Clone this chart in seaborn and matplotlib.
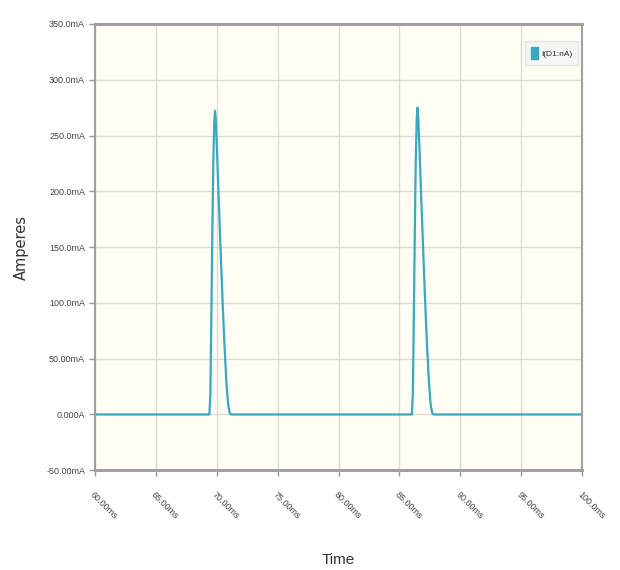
import matplotlib
matplotlib.use("Agg")
import matplotlib.pyplot as plt
import seaborn as sns
import pandas as pd
from matplotlib.patches import Patch

# Diode current I(D1) over time, in ms and mA
time_ms = [60.0,
           69.40, 69.48, 69.56, 69.64, 69.72, 69.80, 69.86, 69.92, 70.02, 70.16,
           70.32, 70.48, 70.64, 70.80, 70.95, 71.08, 71.18,
           86.02, 86.10, 86.18, 86.26, 86.34, 86.42, 86.48, 86.54, 86.64, 86.78,
           86.94, 87.10, 87.26, 87.42, 87.57, 87.70, 87.80,
           100.0]
current_ma = [0.0,
              0.0, 18.0, 85.0, 160.0, 225.0, 262.0, 272.0, 266.0, 238.0, 195.0,
              148.0, 102.0, 62.0, 28.0, 8.0, 1.0, 0.0,
              0.0, 18.0, 86.0, 162.0, 228.0, 265.0, 275.0, 268.0, 240.0, 197.0,
              150.0, 104.0, 63.0, 29.0, 8.0, 1.0, 0.0,
              0.0]

x_ticks = [60, 65, 70, 75, 80, 85, 90, 95, 100]
x_tick_labels = ["60.00ms", "65.00ms", "70.00ms", "75.00ms", "80.00ms",
                 "85.00ms", "90.00ms", "95.00ms", "100.0ms"]
y_ticks = [-50, 0, 50, 100, 150, 200, 250, 300, 350]
y_tick_labels = ["-50.00mA", "0.000A", "50.00mA", "100.0mA", "150.0mA",
                 "200.0mA", "250.0mA", "300.0mA", "350.0mA"]
series_name = "I(D1:nA)"

df = pd.DataFrame({"Time": time_ms, "Current": current_ma,
                   "Series": [series_name] * len(time_ms)})

sns.set_theme(style="whitegrid")
plt.rcParams["font.family"] = ["Liberation Sans", "DejaVu Sans"]

fig = plt.figure(figsize=(6.2, 5.7), dpi=100)
ax = fig.add_axes([0.153, 0.175, 0.786, 0.783])
ax.set_facecolor("#fffdf4")

line_color = "#3aa8bf"
sns.lineplot(data=df, x="Time", y="Current", hue="Series",
             palette=[line_color], linewidth=1.6, ax=ax, legend=False)

ax.set_xlim(60, 100)
ax.set_ylim(-50, 350)
ax.set_xticks(x_ticks)
ax.set_xticklabels(x_tick_labels, rotation=-45, ha="left", va="top",
                   rotation_mode="anchor", fontsize=6.5, color="#444444")
ax.set_yticks(y_ticks)
ax.set_yticklabels(y_tick_labels, fontsize=6.5, color="#444444")

ax.grid(True, color="#dcdad2", linewidth=1.0)
ax.tick_params(axis="both", which="major", length=4, width=1,
               color="#999999", pad=3, direction="out",
               bottom=True, left=True)
ax.tick_params(axis="x", pad=10)

for side in ["left", "bottom", "top", "right"]:
    ax.spines[side].set_visible(True)
    ax.spines[side].set_color("#a0a0a0")
ax.spines["left"].set_linewidth(1.5)
ax.spines["bottom"].set_linewidth(2.2)
ax.spines["top"].set_linewidth(2.2)
ax.spines["right"].set_linewidth(1.5)

ax.set_xlabel("Time", fontsize=11, color="#333333")
ax.xaxis.set_label_coords(0.50, -0.185)
ax.set_ylabel("Amperes", fontsize=10.5, color="#333333",
              family="DejaVu Sans")
ax.yaxis.set_label_coords(-0.135, 0.50)

# Legend box in the upper right corner
handle = Patch(facecolor=line_color, edgecolor=line_color)
leg = ax.legend([handle], [series_name], loc="upper right",
                bbox_to_anchor=(0.995, 0.965), fontsize=6,
                frameon=True, handlelength=0.8, handleheight=1.8,
                handletextpad=0.4, borderpad=0.4)
leg.get_frame().set_facecolor("#f4f4f2")
leg.get_frame().set_edgecolor("#e0e0e0")
leg.get_frame().set_boxstyle("square")

fig.patch.set_facecolor("white")
fig.savefig("out.png", dpi=100)
